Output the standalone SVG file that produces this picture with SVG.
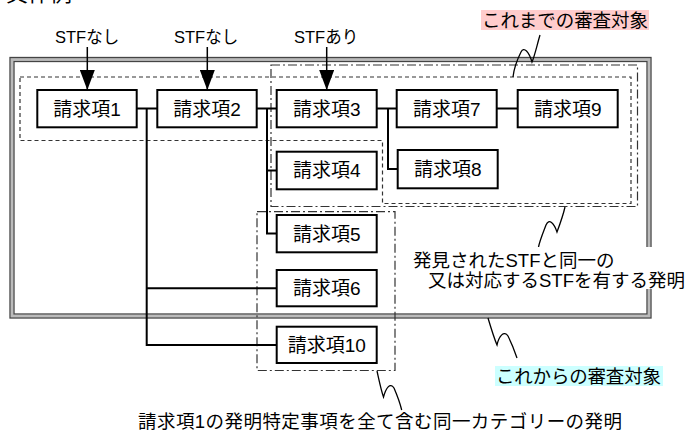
<svg xmlns="http://www.w3.org/2000/svg" width="690" height="432" viewBox="0 0 690 432">
<defs>
<style>
.t{font-family:"Liberation Sans","Noto Sans CJK JP",sans-serif;fill:#000}
.lbl{font-size:16.5px}
.box rect{fill:#fff;stroke:#000;stroke-width:2}
.box text{font-size:19px;text-anchor:middle}
.ann{font-size:18.5px}
.frame{fill:none;stroke:#444;stroke-width:1.3}
.dash{fill:none;stroke:#333;stroke-width:1.2;stroke-dasharray:4 3}
.dashdot{fill:none;stroke:#333;stroke-width:1.2;stroke-dasharray:9 3 2 3}
.con{fill:none;stroke:#000;stroke-width:2}
.arr{fill:none;stroke:#000;stroke-width:1.5;marker-end:url(#ah)}
.sq{fill:none;stroke:#000;stroke-width:1.3}
</style>
<marker id="ah" viewBox="0 0 20 15" markerWidth="20" markerHeight="15" markerUnits="userSpaceOnUse" refX="20" refY="7.5" orient="auto">
<path d="M0,0 L20,7.5 L0,15 z" fill="#000"/>
</marker>
</defs>
<rect width="690" height="432" fill="#fff"/>
<text class="t" x="6" y="0.8" font-size="22">具体例</text>

<g id="frame">
<rect x="12" y="59.3" width="637" height="256.8" fill="none" stroke="#bbb" stroke-width="3"/>
<rect class="frame" x="10" y="57.5" width="641" height="260.5"/>
<rect class="frame" x="14" y="61.5" width="633" height="252.5"/>
</g>

<g id="regions">
<path class="dash" d="M20,77 H631 V203.5 H382.5 V140.5 H20 Z"/>
<rect class="dashdot" x="271" y="65" width="366.5" height="141.5"/>
<rect class="dashdot" x="257" y="211.7" width="138" height="158.8"/>
</g>

<g id="connectors">
<path class="con" d="M137,108.5 H157"/>
<path class="con" d="M146.7,108.5 V345 H277"/>
<path class="con" d="M146.7,288.3 H277"/>
<path class="con" d="M257,108.5 H277"/>
<path class="con" d="M267,108.5 V233.5 H277"/>
<path class="con" d="M267,170.5 H277"/>
<path class="con" d="M377,108.5 H397"/>
<path class="con" d="M388,108.5 V169 H398"/>
<path class="con" d="M497,108.5 H518"/>
<path class="arr" d="M87.3,47 V90"/>
<path class="arr" d="M207.3,47 V90"/>
<path class="arr" d="M326.7,47 V90"/>
<path class="sq" d="M540,35 C537,45 535,55 532,62 C529,52 524,46 521,52 C517,60 514,68 513,77"/>
<path class="sq" d="M565,207 C563,216 560,224 557,232 C554,223 549,218 546,225 C543,233 540,240 538.5,247"/>
<path class="sq" d="M488,318 C491,328 494,338 497,345 C499,336 504,330 508,336 C512,344 515,352 517,358"/>
<path class="sq" d="M377,371 C379,380 381,390 383.5,397 C386,388 390,382 394,388 C397,395 400,403 401.7,410"/>
</g>

<g id="labels">
<text class="t lbl" x="55" y="43">STFなし</text>
<text class="t lbl" x="174" y="43">STFなし</text>
<text class="t lbl" x="294" y="43">STFあり</text>
</g>

<g id="n1" class="box"><rect x="37.3" y="90" width="99.4" height="37.3"/><text class="t" x="87" y="115.5">請求項1</text></g>
<g id="n2" class="box"><rect x="157.3" y="90" width="99.4" height="37.3"/><text class="t" x="207" y="115.5">請求項2</text></g>
<g id="n3" class="box"><rect x="276.7" y="90" width="100" height="37.3"/><text class="t" x="326.7" y="115.5">請求項3</text></g>
<g id="n7" class="box"><rect x="396.7" y="90" width="100" height="37.3"/><text class="t" x="446.7" y="115.5">請求項7</text></g>
<g id="n9" class="box"><rect x="517.7" y="90" width="100" height="37.3"/><text class="t" x="567.7" y="115.5">請求項9</text></g>
<g id="n4" class="box"><rect x="276.7" y="151.7" width="100" height="37.6"/><text class="t" x="326.7" y="177.3">請求項4</text></g>
<g id="n8" class="box"><rect x="397.7" y="150" width="100" height="38.3"/><text class="t" x="447.7" y="176">請求項8</text></g>
<g id="n5" class="box"><rect x="276.7" y="215" width="100" height="37.3"/><text class="t" x="326.7" y="240.5">請求項5</text></g>
<g id="n6" class="box"><rect x="276.7" y="270" width="100" height="36.3"/><text class="t" x="326.7" y="295">請求項6</text></g>
<g id="n10" class="box"><rect x="276.7" y="326.7" width="100" height="36.3"/><text class="t" x="326.7" y="351.7">請求項10</text></g>

<g id="annotations">
<rect x="481" y="10" width="168" height="20" fill="#ffcccc"/>
<text class="t ann" x="482" y="26.5" textLength="166">これまでの審査対象</text>
<rect x="410" y="247" width="280" height="42" fill="#fff"/>
<text class="t ann" x="413" y="266.5">発見されたSTFと同一の</text>
<text class="t ann" x="428" y="286.5">又は対応するSTFを有する発明</text>
<rect x="495" y="366" width="168" height="20" fill="#ccffff"/>
<text class="t ann" x="496" y="382.5" textLength="165">これからの審査対象</text>
<text class="t ann" x="138" y="428" textLength="484">請求項1の発明特定事項を全て含む同一カテゴリーの発明</text>
</g>
</svg>
